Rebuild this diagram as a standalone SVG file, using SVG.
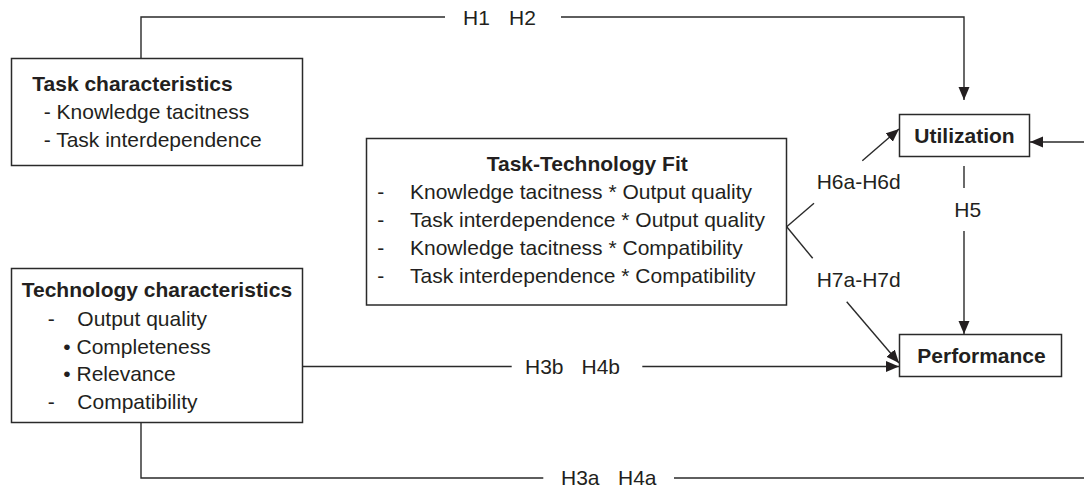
<svg xmlns="http://www.w3.org/2000/svg" width="1084" height="488" viewBox="0 0 1084 488">
<style>
  .box { fill: #fff; stroke: #2a2a2a; stroke-width: 1.5; }
  .ln { fill: none; stroke: #2a2a2a; stroke-width: 1.4; }
  text { font-family: "Liberation Sans", Arial, sans-serif; font-size: 21px; fill: #231f20; }
  .b { font-weight: bold; }
</style>
<defs>
  <marker id="ah" markerUnits="userSpaceOnUse" markerWidth="14" markerHeight="12" refX="13" refY="6" orient="auto">
    <path d="M0,0.5 L13,6 L0,11.5 z" fill="#231f20"/>
  </marker>
</defs>
<rect width="1084" height="488" fill="#fff"/>
<g id="connectors">
  <!-- H1 H2 -->
  <polyline class="ln" points="141,58.5 141,17 445,17"/>
  <polyline class="ln" points="561,17 964,17 964,100" marker-end="url(#ah)"/>
  <!-- right incoming to Utilization -->
  <line class="ln" x1="1084" y1="142" x2="1030" y2="142" marker-end="url(#ah)"/>
  <!-- H5 -->
  <line class="ln" x1="964" y1="166" x2="964" y2="188"/>
  <line class="ln" x1="964" y1="231" x2="964" y2="334" marker-end="url(#ah)"/>
  <!-- H6 -->
  <line class="ln" x1="786.7" y1="226.7" x2="814" y2="203.3"/>
  <line class="ln" x1="862.3" y1="160.7" x2="899" y2="129" marker-end="url(#ah)"/>
  <!-- H7 -->
  <line class="ln" x1="786.7" y1="226.7" x2="812.7" y2="258.3"/>
  <line class="ln" x1="846.7" y1="301.7" x2="899" y2="363" marker-end="url(#ah)"/>
  <!-- H3b H4b -->
  <line class="ln" x1="302.5" y1="366.5" x2="511.7" y2="366.5"/>
  <line class="ln" x1="642.3" y1="366.5" x2="899" y2="366.5" marker-end="url(#ah)"/>
  <!-- H3a H4a -->
  <polyline class="ln" points="141,422.5 141,478 543.3,478"/>
  <line class="ln" x1="674" y1="478" x2="1084" y2="478"/>
  <!-- labels -->
  <text x="463" y="24.5">H1<tspan x="509">H2</tspan></text>
  <text x="816.7" y="189">H6a-H6d</text>
  <text x="816.7" y="286.7">H7a-H7d</text>
  <text x="954.3" y="216.7">H5</text>
  <text x="525" y="374">H3b<tspan x="581.5">H4b</tspan></text>
  <text x="561" y="484.5">H3a<tspan x="618">H4a</tspan></text>
</g>
<g id="task">
  <rect class="box" x="11.5" y="58.5" width="291" height="107"/>
  <text class="b" x="32.3" y="90.7">Task characteristics</text>
  <text x="43.7" y="118.5">- Knowledge tacitness</text>
  <text x="43.7" y="146.5">- Task interdependence</text>
</g>
<g id="ttf">
  <rect class="box" x="366.5" y="138.5" width="420" height="166.5"/>
  <text class="b" x="486.7" y="170.7">Task-Technology Fit</text>
  <text x="377.3" y="198.5">-<tspan x="410">Knowledge tacitness * Output quality</tspan></text>
  <text x="377.3" y="226.5">-<tspan x="410">Task interdependence * Output quality</tspan></text>
  <text x="377.3" y="254.5">-<tspan x="410">Knowledge tacitness * Compatibility</tspan></text>
  <text x="377.3" y="282.5">-<tspan x="410">Task interdependence * Compatibility</tspan></text>
</g>
<g id="tech">
  <rect class="box" x="11.5" y="268.5" width="291" height="154"/>
  <text class="b" x="21.7" y="296.7">Technology characteristics</text>
  <text x="47.7" y="325.5">-<tspan x="77.3">Output quality</tspan></text>
  <text x="63.3" y="353.5">• Completeness</text>
  <text x="63.3" y="381">• Relevance</text>
  <text x="47.7" y="409">-<tspan x="77.3">Compatibility</tspan></text>
</g>
<g id="utilization">
  <rect class="box" x="899.5" y="114.5" width="130" height="42"/>
  <text class="b" x="964.5" y="142.7" text-anchor="middle">Utilization</text>
</g>
<g id="performance">
  <rect class="box" x="899.5" y="334.5" width="162" height="42"/>
  <text class="b" x="981.5" y="362.7" text-anchor="middle">Performance</text>
</g>
</svg>
